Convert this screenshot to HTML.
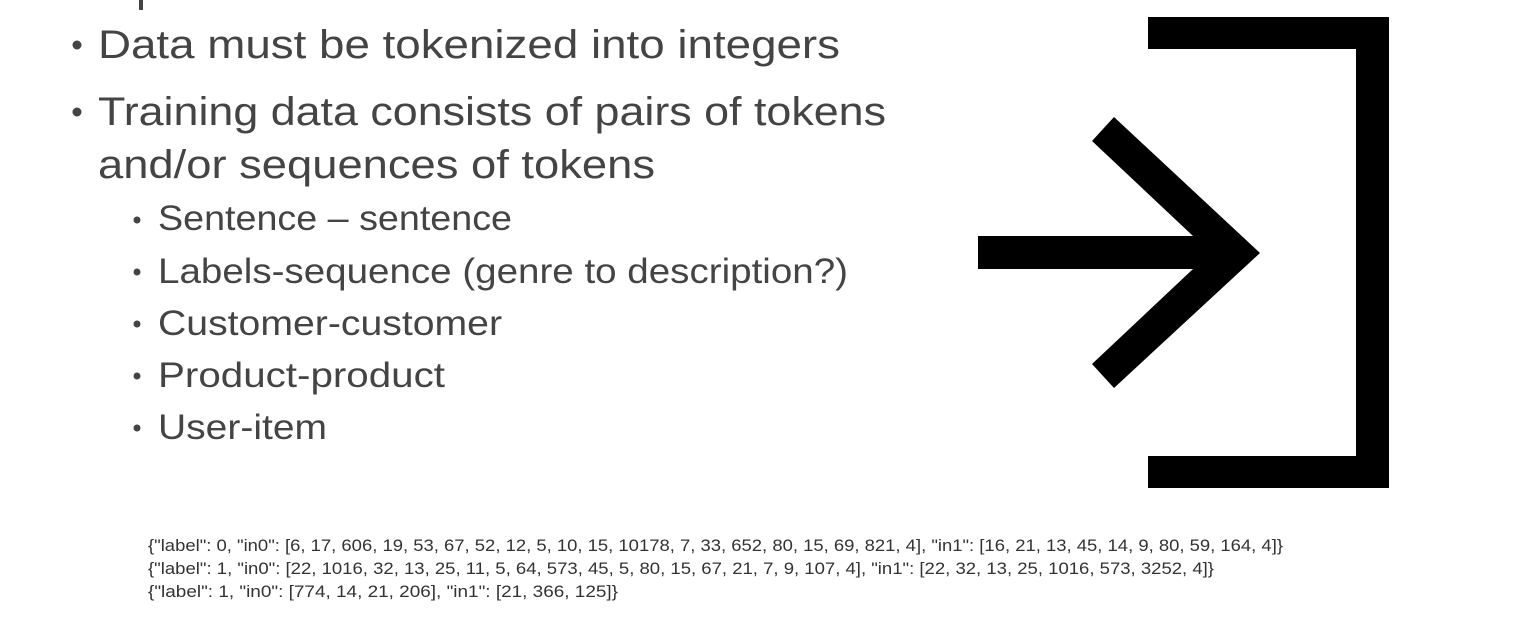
<!DOCTYPE html>
<html><head><meta charset="utf-8"><style>
html,body{margin:0;padding:0;background:#fff;}
svg{display:block;}
</style></head><body>
<svg width="1533" height="627" viewBox="0 0 1533 627" xmlns="http://www.w3.org/2000/svg">
<rect width="1533" height="627" fill="#fff"/>
<rect x="139" y="0" width="4" height="10" fill="#444"/>
<g font-family="Liberation Sans, sans-serif" fill="#444">
<circle cx="77" cy="45" r="4.5"/>
<text x="98" y="58" font-size="40" textLength="742" lengthAdjust="spacingAndGlyphs">Data must be tokenized into integers</text>
<circle cx="77" cy="112" r="4.5"/>
<text x="98" y="125" font-size="40" textLength="788" lengthAdjust="spacingAndGlyphs">Training data consists of pairs of tokens</text>
<text x="98" y="178" font-size="40" textLength="557" lengthAdjust="spacingAndGlyphs">and/or sequences of tokens</text>
<g font-size="35">
<circle cx="137" cy="220" r="3.5"/>
<text x="158" y="230" textLength="354" lengthAdjust="spacingAndGlyphs">Sentence – sentence</text>
<circle cx="137" cy="272" r="3.5"/>
<text x="158" y="283" textLength="690" lengthAdjust="spacingAndGlyphs">Labels-sequence (genre to description?)</text>
<circle cx="137" cy="324" r="3.5"/>
<text x="158" y="335" textLength="344" lengthAdjust="spacingAndGlyphs">Customer-customer</text>
<circle cx="137" cy="376" r="3.5"/>
<text x="158" y="387" textLength="287" lengthAdjust="spacingAndGlyphs">Product-product</text>
<circle cx="137" cy="428" r="3.5"/>
<text x="158" y="439" textLength="169" lengthAdjust="spacingAndGlyphs">User-item</text>
</g>
</g>
<g font-family="Liberation Sans, sans-serif" font-size="17" fill="#333">
<text x="148" y="551" textLength="1135" lengthAdjust="spacingAndGlyphs">{"label": 0, "in0": [6, 17, 606, 19, 53, 67, 52, 12, 5, 10, 15, 10178, 7, 33, 652, 80, 15, 69, 821, 4], "in1": [16, 21, 13, 45, 14, 9, 80, 59, 164, 4]}</text>
<text x="148" y="574" textLength="1066" lengthAdjust="spacingAndGlyphs">{"label": 1, "in0": [22, 1016, 32, 13, 25, 11, 5, 64, 573, 45, 5, 80, 15, 67, 21, 7, 9, 107, 4], "in1": [22, 32, 13, 25, 1016, 573, 3252, 4]}</text>
<text x="148" y="597" textLength="470" lengthAdjust="spacingAndGlyphs">{"label": 1, "in0": [774, 14, 21, 206], "in1": [21, 366, 125]}</text>
</g>
<path d="M1148 17 H1389 V488 H1148 V456 H1356 V49 H1148 Z" fill="#000"/>
<polygon points="978,236 1193,236 1092,141 1114,117 1260,253 1114,388 1092,364 1193,269 978,269" fill="#000"/>
</svg>
</body></html>
